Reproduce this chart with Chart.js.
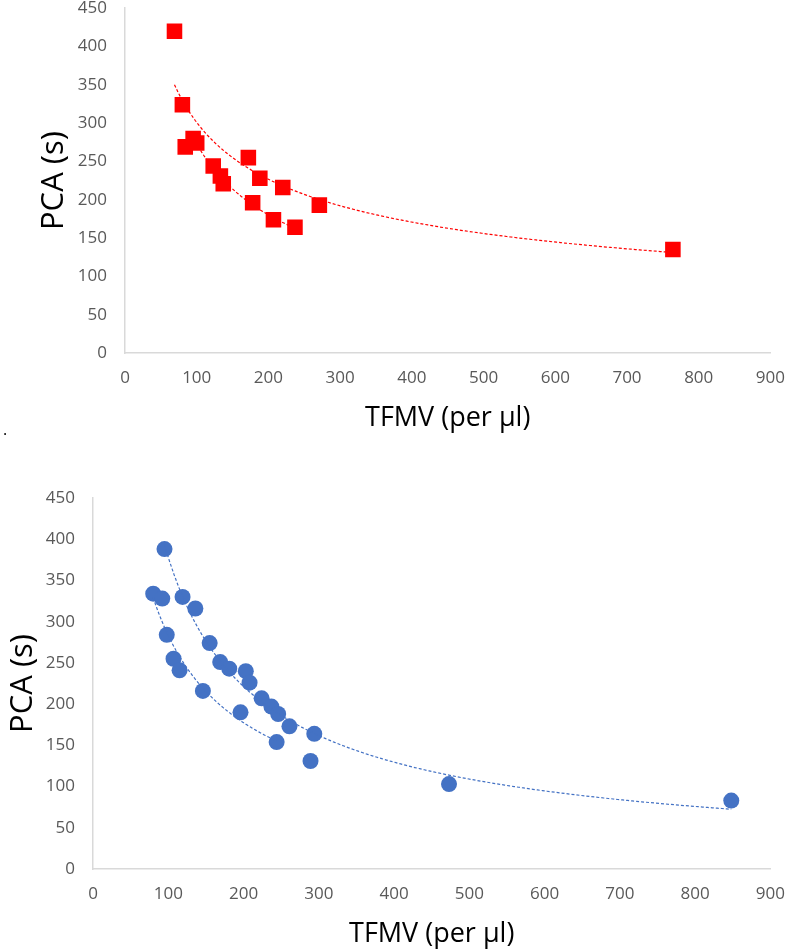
<!DOCTYPE html>
<html>
<head>
<meta charset="utf-8">
<script src="https://cdn.jsdelivr.net/npm/chart.js@4.4.0/dist/chart.umd.min.js"></script>
<style>
  body { margin: 0; background: #fff; width: 800px; height: 952px; position: relative; overflow: hidden; }
  canvas { position: absolute; left: 0; }
  #topChart { top: -20px; }
  #bottomChart { top: 460px; }
  .dot { position: absolute; left: 3px; top: 418px; font: 16px 'Open Sans'; color: #000; }
</style>
</head>
<body>
<canvas id="topChart" width="800" height="480"></canvas>
<div class="dot">.</div>
<canvas id="bottomChart" width="800" height="492"></canvas>
<script>
// top chart (red squares), two groups, each with its own power trendline
const topUpperX = [69, 80, 84, 172, 188, 220, 271, 764];
const topUpperY = [420, 324, 269, 255, 228, 216, 193, 135];
const topLowerX = [95, 100, 123, 133, 137, 178, 207, 237];
const topLowerY = [280, 274, 244, 231, 221, 196, 174, 164];

// bottom chart (blue circles)
const bottomUpperX = [95, 119, 136, 155, 169, 181, 203, 208, 224, 237, 246, 261, 294, 289, 473, 848];
const bottomUpperY = [388, 330, 316, 274, 251, 243, 240, 226, 207, 197, 188, 173, 164, 131, 103, 83];
const bottomLowerX = [80, 92, 98, 107, 115, 146, 196, 244];
const bottomLowerY = [334, 328, 284, 255, 241, 216, 190, 154];

// axis ranges / tick steps
const xMax = 900, xStep = 100;
const yMax = 450, yStep = 50;

const xTitle = 'TFMV (per µl)';
const yTitle = 'PCA (s)';

function toPoints(xs, ys) {
  return xs.map((x, i) => ({ x: x, y: ys[i] }));
}

// least squares power fit y = a*x^b (like an Excel power trendline)
function powerFit(xs, ys) {
  const lx = xs.map(Math.log), ly = ys.map(Math.log);
  const n = xs.length;
  const mx = lx.reduce((s, v) => s + v, 0) / n;
  const my = ly.reduce((s, v) => s + v, 0) / n;
  let sxy = 0, sxx = 0;
  for (let i = 0; i < n; i++) {
    sxy += (lx[i] - mx) * (ly[i] - my);
    sxx += (lx[i] - mx) * (lx[i] - mx);
  }
  const b = sxy / sxx;
  const a = Math.exp(my - b * mx);
  const lo = Math.min(...xs), hi = Math.max(...xs);
  const pts = [];
  for (let k = 0; k <= 120; k++) {
    const x = lo + (hi - lo) * k / 120;
    pts.push({ x: x, y: a * Math.pow(x, b) });
  }
  return pts;
}

function trendSet(xs, ys, color) {
  return {
    data: powerFit(xs, ys),
    showLine: true,
    borderColor: color,
    borderWidth: 1.2,
    borderDash: [3, 2],
    pointRadius: 0,
    fill: false,
    order: 0
  };
}

function markerSet(xs, ys, color, style, radius) {
  return {
    data: toPoints(xs, ys),
    backgroundColor: color,
    borderColor: color,
    borderWidth: 0,
    pointStyle: style,
    pointRadius: radius,
    pointHoverRadius: radius,
    order: 1
  };
}

function makeOptions(pad, yWidth, xHeight) {
  const tickFont = { family: "'Open Sans', sans-serif", size: 17 };
  return {
    responsive: false,
    animation: false,
    devicePixelRatio: 1,
    layout: { padding: pad },
    plugins: { legend: { display: false }, tooltip: { enabled: false } },
    scales: {
      x: {
        type: 'linear',
        min: 0, max: xMax,
        grid: { display: false, drawTicks: false },
        border: { display: true, color: '#d9d9d9', width: 1.5 },
        ticks: { stepSize: xStep, color: '#595959', font: tickFont, padding: 15 },
        title: { display: true, text: xTitle, color: '#000', padding: 0,
                 font: { family: "'Open Sans', sans-serif", size: 27 } },
        afterFit: s => { s.height = xHeight; }
      },
      y: {
        type: 'linear',
        min: 0, max: yMax,
        grid: { display: false, drawTicks: false },
        border: { display: true, color: '#d9d9d9', width: 1.5 },
        ticks: { stepSize: yStep, color: '#595959', font: tickFont, padding: 18 },
        title: { display: true, text: yTitle, color: '#000', padding: 0,
                 font: { family: "'Open Sans', sans-serif", size: 31 } },
        afterFit: s => { s.width = yWidth; }
      }
    }
  };
}

const red = '#ff0000';
const blue = '#4472c4';

new Chart(document.getElementById('topChart'), {
  type: 'scatter',
  data: {
    datasets: [
      trendSet(topUpperX, topUpperY, red),
      trendSet(topLowerX, topLowerY, red),
      markerSet(topUpperX, topUpperY, red, 'rect', 11),
      markerSet(topLowerX, topLowerY, red, 'rect', 11)
    ]
  },
  options: makeOptions({ top: 28, right: 17, bottom: 25, left: 36 }, 89, 82)
});

new Chart(document.getElementById('bottomChart'), {
  type: 'scatter',
  data: {
    datasets: [
      trendSet(bottomUpperX, bottomUpperY, blue),
      trendSet(bottomLowerX, bottomLowerY, blue),
      markerSet(bottomUpperX, bottomUpperY, blue, 'circle', 8),
      markerSet(bottomLowerX, bottomLowerY, blue, 'circle', 8)
    ]
  },
  options: makeOptions({ top: 38, right: 26, bottom: 1, left: 5 }, 88, 82)
});
</script>
</body>
</html>
